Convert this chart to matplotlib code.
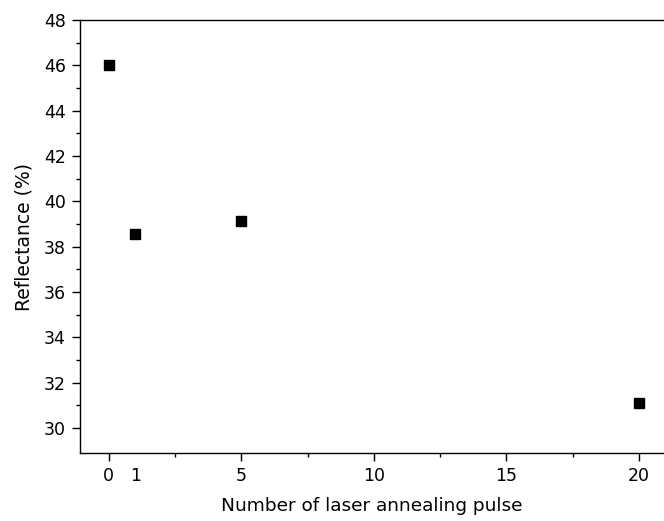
import numpy as np
import matplotlib.pyplot as plt

plt.rcParams['font.family'] = ['DejaVu Sans']

# number of pulses and measured reflectance
pulses = [0, 1, 5, 20]
reflectance = [46.0, 38.55, 39.15, 31.1]

x_ticks = [0, 1, 5, 10, 15, 20]
y_ticks = np.arange(30, 49, 2)

fig = plt.figure(figsize=(6.64, 5.21), dpi=100)
ax = fig.add_axes([0.12, 0.1305, 0.88, 0.831])

ax.plot(pulses, reflectance, linestyle='none', marker='s', markersize=6.5, color='black')

ax.set_xlim(-1.1, 20.95)
ax.set_ylim(28.9, 48)
ax.set_xticks(x_ticks)
ax.set_xticks([2.5, 7.5, 12.5, 17.5], minor=True)
ax.set_yticks(y_ticks)
ax.set_yticks(np.arange(31, 48, 2), minor=True)

ax.spines['right'].set_visible(False)
for s in ax.spines.values():
    s.set_linewidth(1.0)

ax.tick_params(axis='both', which='major', direction='out', length=6, width=1, labelsize=12.5, pad=4)
ax.tick_params(axis='both', which='minor', direction='out', length=3, width=1)
# no tick mark at 1, only the label
ax.xaxis.get_major_ticks()[1].tick1line.set_visible(False)

ax.set_xlabel('Number of laser annealing pulse', fontsize=13.3, labelpad=9)
ax.set_ylabel('Reflectance (%)', fontsize=13.5, labelpad=7)

plt.savefig('out.png', dpi=100)
